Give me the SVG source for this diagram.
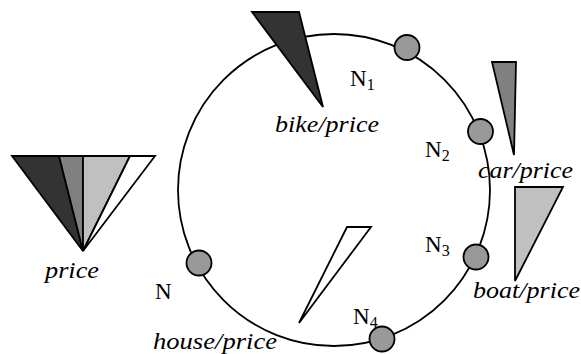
<svg xmlns="http://www.w3.org/2000/svg" width="581" height="354" viewBox="0 0 581 354">
<style>
.ln{stroke:#000;stroke-width:1.8;stroke-linejoin:miter}
.node{fill:#999;stroke:#000;stroke-width:1.8}
text{font-family:'Liberation Serif','Times New Roman',Tinos,'DejaVu Serif','Noto Serif',Times,serif}
.lbl{font-size:23px;fill:#000}
.it{font-size:23px;font-style:italic;fill:#000}
.sub{font-size:16px}
</style>
<rect width="581" height="354" fill="#fff"/>
<g id="ring">
<circle cx="334" cy="190" r="156" fill="none" stroke="#000" stroke-width="1.8"/>
</g>
<g id="price-fan">
<polygon class="ln" fill="#333" points="12,156 59,156 83,251"/>
<polygon class="ln" fill="#808080" points="59,156 83,156 83,251"/>
<polygon class="ln" fill="#c0c0c0" points="83,156 130,156 83,251"/>
<polygon class="ln" fill="#fff" points="130,156 155,156 83,251"/>
<text class="it" x="45" y="278" textLength="54" lengthAdjust="spacingAndGlyphs">price</text>
</g>
<g id="bike">
<polygon class="ln" fill="#333" points="252,12 299,12 323,107"/>
<text class="it" x="275" y="132" textLength="104" lengthAdjust="spacingAndGlyphs">bike/price</text>
</g>
<g id="car">
<polygon class="ln" fill="#808080" points="492,62 516,62 514,155"/>
<text class="it" x="478" y="178" textLength="95" lengthAdjust="spacingAndGlyphs">car/price</text>
</g>
<g id="boat">
<polygon class="ln" fill="#c0c0c0" points="515,187 563,187 515,281"/>
<text class="it" x="473" y="298" textLength="107" lengthAdjust="spacingAndGlyphs">boat/price</text>
</g>
<g id="house">
<polygon class="ln" fill="#fff" points="347,227 371,227 299,323"/>
<text class="it" x="153" y="349" textLength="124" lengthAdjust="spacingAndGlyphs">house/price</text>
</g>
<g id="N1">
<text class="lbl" x="350" y="86">N<tspan class="sub" dy="4">1</tspan></text>
<circle class="node" cx="407" cy="47.5" r="12.5"/>
</g>
<g id="N2">
<text class="lbl" x="425" y="157">N<tspan class="sub" dy="4">2</tspan></text>
<circle class="node" cx="480.5" cy="131.5" r="12.5"/>
</g>
<g id="N3">
<text class="lbl" x="425" y="252">N<tspan class="sub" dy="4">3</tspan></text>
<circle class="node" cx="476" cy="257" r="12.5"/>
</g>
<g id="N4">
<text class="lbl" x="353" y="324">N<tspan class="sub" dy="4">4</tspan></text>
<circle class="node" cx="382" cy="339" r="12.5"/>
</g>
<g id="N">
<text class="lbl" x="155" y="299">N</text>
<circle class="node" cx="199" cy="263" r="12.5"/>
</g>
</svg>
